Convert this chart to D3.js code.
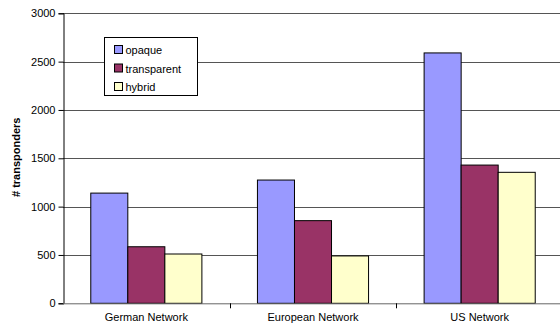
<!DOCTYPE html>
<html>
<head>
<meta charset="utf-8">
<script src="https://cdn.jsdelivr.net/npm/d3@7/dist/d3.min.js"></script>
<style>
  html, body { margin: 0; padding: 0; background: #fff; }
  svg { display: block; font-family: "Liberation Sans", Arial, sans-serif; }
</style>
</head>
<body>
<svg id="chart" width="560" height="326"></svg>
<script>
const categories = ["German Network", "European Network", "US Network"];
const seriesNames = ["opaque", "transparent", "hybrid"];
const opaque = [1140, 1275, 2590];
const transparent = [585, 855, 1430];
const hybrid = [510, 490, 1355];
const yTicks = [0, 500, 1000, 1500, 2000, 2500, 3000];
const colors = ["#9999FF", "#993366", "#FFFFCC"];

const values = [opaque, transparent, hybrid];
const svg = d3.select("#chart");
const m = { left: 63, right: 563, top: 13.3, bottom: 303.3 };

const x = d3.scaleBand().domain(categories).range([m.left, m.right]);
const inner = d3.scaleBand().domain(seriesNames)
  .range([0, x.bandwidth()]).paddingOuter(0.75).paddingInner(0);
const y = d3.scaleLinear().domain([0, 3000]).range([m.bottom, m.top]);

// horizontal gridlines
svg.append("g").selectAll("line").data(yTicks.filter(d => d > 0)).join("line")
  .attr("x1", m.left).attr("x2", 560)
  .attr("y1", d => Math.round(y(d)) + 0.5).attr("y2", d => Math.round(y(d)) + 0.5)
  .attr("stroke", "#555").attr("stroke-width", 1);

// bars
const groups = svg.append("g").selectAll("g").data(categories).join("g")
  .attr("transform", c => `translate(${x(c)},0)`);
groups.selectAll("rect").data((c, i) => seriesNames.map((s, j) => ({ s, v: values[j][i], j })))
  .join("rect")
  .attr("x", d => inner(d.s))
  .attr("width", inner.bandwidth())
  .attr("y", d => y(d.v))
  .attr("height", d => m.bottom - y(d.v))
  .attr("fill", d => colors[d.j])
  .attr("stroke", "#000").attr("stroke-width", 1);

// y axis
const yAxis = d3.axisLeft(y).tickValues(yTicks).tickSize(5).tickPadding(3).tickFormat(d3.format("d"));
const gy = svg.append("g").attr("transform", `translate(${m.left + 0.5},0)`).call(yAxis);
gy.select(".domain").attr("stroke", "#000");
gy.selectAll(".tick line").attr("stroke", "#000");
gy.selectAll("text").attr("font-size", 11).attr("fill", "#000")
  .attr("font-family", "Liberation Sans, Arial, sans-serif");

// x axis baseline and category separators
svg.append("line").attr("x1", m.left).attr("x2", 560)
  .attr("y1", m.bottom + 0.5).attr("y2", m.bottom + 0.5).attr("stroke", "#666");
svg.append("g").selectAll("line").data(categories.slice(1)).join("line")
  .attr("x1", c => Math.round(x(c)) + 0.5).attr("x2", c => Math.round(x(c)) + 0.5)
  .attr("y1", m.bottom).attr("y2", m.bottom + 5).attr("stroke", "#000");

svg.append("g").selectAll("text").data(categories).join("text")
  .attr("x", c => x(c) + x.bandwidth() / 2).attr("y", 321)
  .attr("text-anchor", "middle").attr("font-size", 11).text(c => c);

// y axis title
svg.append("text")
  .attr("transform", `translate(20,${(m.top + m.bottom) / 2 - 1}) rotate(-90)`)
  .attr("text-anchor", "middle").attr("font-size", 11).attr("font-weight", "bold")
  .text("# transponders");

// legend
const lg = svg.append("g").attr("transform", "translate(104.5,37.5)");
lg.append("rect").attr("width", 93).attr("height", 58)
  .attr("fill", "#fff").attr("stroke", "#000");
const items = lg.selectAll("g").data(seriesNames).join("g")
  .attr("transform", (d, i) => `translate(10,${8 + i * 18.5})`);
items.append("rect").attr("width", 8).attr("height", 8)
  .attr("fill", (d, i) => colors[i]).attr("stroke", "#000");
items.append("text").attr("x", 11).attr("y", 8.5).attr("font-size", 11).text(d => d);
</script>
</body>
</html>
